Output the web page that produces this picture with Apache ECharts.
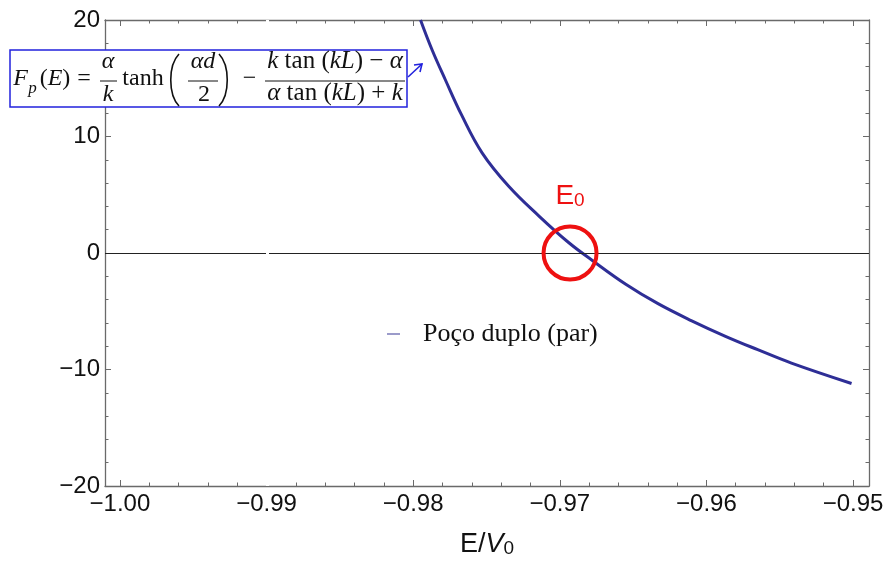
<!DOCTYPE html>
<html>
<head>
<meta charset="utf-8">
<script src="https://cdn.jsdelivr.net/npm/echarts@6/dist/echarts.min.js"></script>
<style>
  html, body { margin: 0; padding: 0; background: #fff; }
  #main { width: 894px; height: 563px; }
</style>
</head>
<body>
<div id="main"></div>
<script>
// ---------- data ----------
var energy = [-0.9795, -0.9787, -0.9778, -0.9767, -0.9753, -0.9735, -0.9714, -0.9694,
              -0.9678, -0.9655, -0.9633, -0.9610, -0.9587, -0.9565, -0.9542, -0.9501];
var fpValues = [20.0, 17.4, 14.85, 11.85, 8.6, 5.75, 3.15, 0.9,
                -0.62, -2.68, -4.35, -5.82, -7.15, -8.3, -9.45, -11.2];
var xMajorTicks = [-1.00, -0.99, -0.98, -0.97, -0.96, -0.95];
var yMajorTicks = [-20, -10, 0, 10, 20];
var rootE0 = -0.9693;
var seriesName = 'Poço duplo (par)';

var xMin = -1.00102, xMax = -0.94891;

// minor ticks every 0.002 between majors
var xMinorTicks = [];
for (var i = 0; i < xMajorTicks.length - 1; i++) {
  for (var j = 1; j < 5; j++) {
    xMinorTicks.push(+(xMajorTicks[i] + j * 0.002).toFixed(3));
  }
}

var points = energy.map(function (e, i) { return [e, fpValues[i]]; });

function minus(v, d) {
  var s = Math.abs(v).toFixed(d);
  return v < 0 ? '\u2212' + s : s;
}

var frameColor = '#6a6a6a';
var sansFont = 'Liberation Sans';
var serifFont = 'Liberation Serif';

function xAxisDef(pos, ticks, len, labels, line) {
  return {
    type: 'value', position: pos, min: xMin, max: xMax,
    axisLine: { show: line, onZero: false, lineStyle: { color: frameColor, width: 1.3 } },
    axisTick: { show: true, inside: true, length: len, customValues: ticks,
                lineStyle: { color: frameColor, width: 1 } },
    axisLabel: labels ? {
      show: true, customValues: ticks, margin: 6,
      fontFamily: sansFont, fontSize: 24, color: '#111',
      formatter: function (v) { return minus(v, 2); }
    } : { show: false },
    splitLine: { show: false }
  };
}

function yAxisDef(pos, labels) {
  return {
    type: 'value', position: pos, min: -20, max: 20, interval: 10,
    axisLine: { show: true, onZero: false, lineStyle: { color: frameColor, width: 1.3 } },
    axisTick: { show: true, inside: true, length: 6, lineStyle: { color: frameColor } },
    minorTick: { show: true, splitNumber: 5, length: 3.5, lineStyle: { color: frameColor } },
    axisLabel: labels ? {
      show: true, margin: 5, fontFamily: sansFont, fontSize: 24, color: '#111',
      formatter: function (v) { return minus(v, 0); }
    } : { show: false },
    splitLine: { show: false }
  };
}

var bottomX = xAxisDef('bottom', xMajorTicks, 6, true, true);
bottomX.name = '{n|E/}{v|V}{s|0}';
bottomX.nameLocation = 'middle';
bottomX.nameGap = 40;
bottomX.nameTextStyle = {
  rich: {
    n: { fontFamily: sansFont, fontSize: 27, color: '#111', lineHeight: 32, verticalAlign: 'bottom' },
    v: { fontFamily: sansFont, fontSize: 27, fontStyle: 'italic', color: '#111', lineHeight: 32, verticalAlign: 'bottom' },
    s: { fontFamily: sansFont, fontSize: 19, color: '#111', lineHeight: 14, verticalAlign: 'bottom' }
  }
};

// ---------- formula annotation (top-left) ----------
var ink = '#111';
function txt(x, y, text, opt) {
  opt = opt || {};
  var sz = opt.size || 24;
  return {
    type: 'text', z: 101, x: x, y: y,
    style: {
      text: text, fill: ink, fontFamily: serifFont, fontSize: sz,
      fontStyle: opt.italic ? 'italic' : 'normal',
      align: opt.align || 'center', verticalAlign: 'middle',
      rich: {
        i: { fontFamily: serifFont, fontSize: sz, fontStyle: 'italic', fill: ink },
        r: { fontFamily: serifFont, fontSize: sz, fill: ink }
      }
    }
  };
}
function bar(x1, x2, y) {
  return { type: 'line', z: 101, shape: { x1: x1, y1: y, x2: x2, y2: y },
           style: { stroke: ink, lineWidth: 1 } };
}
function paren(xEnd, xMid, y1, y2) {
  return { type: 'bezierCurve', z: 101,
           shape: { x1: xEnd, y1: y1, x2: xEnd, y2: y2,
                    cpx1: xMid, cpy1: y1 + (y2 - y1) * 0.22, cpx2: xMid, cpy2: y1 + (y2 - y1) * 0.78 },
           style: { stroke: ink, lineWidth: 1.6, fill: null } };
}

var formula = [
  { type: 'rect', z: 100, shape: { x: 10, y: 50, width: 397, height: 57 },
    style: { fill: '#fff', stroke: '#2222dd', lineWidth: 1.5 } },
  txt(20.5, 79, 'F', { italic: true }),
  txt(32.5, 89, 'p', { italic: true, size: 17 }),
  txt(55, 79, '{r|(}{i|E}{r|)}'),
  txt(84, 79, '='),
  txt(108, 62, 'α', { italic: true }),
  bar(100, 117, 81),
  txt(108, 95, 'k', { italic: true }),
  txt(143, 79, 'tanh'),
  paren(179, 168, 54, 106),
  txt(203, 62, '{i|αd}'),
  bar(188, 218, 81),
  txt(204, 95, '2'),
  paren(219, 230, 54, 106),
  txt(249.5, 79, '\u2212'),
  txt(335, 61, '{i|k} tan ({i|kL}) \u2212 {i|α}', { size: 25 }),
  bar(265, 405, 81),
  txt(335, 93, '{i|α} tan ({i|kL}) + {i|k}', { size: 25 }),
  { type: 'line', z: 101, shape: { x1: 408, y1: 77, x2: 422, y2: 64 },
    style: { stroke: '#2222dd', lineWidth: 1.6 } },
  { type: 'polyline', z: 101, shape: { points: [[414, 65], [422, 64], [420, 72]] },
    style: { stroke: '#2222dd', lineWidth: 1.6, fill: null } }
];

var chart = echarts.init(document.getElementById('main'), null, { renderer: 'canvas' });
chart.setOption({
  backgroundColor: '#ffffff',
  animation: false,
  grid: { left: 105, right: 25, top: 20, bottom: 73, containLabel: false },
  legend: {
    left: 382, top: 316,
    icon: 'rect', itemWidth: 13, itemHeight: 1.5,
    data: [{ name: seriesName, itemStyle: { color: '#7a7ab8' } }],
    textStyle: { fontFamily: serifFont, fontSize: 26, color: '#111', padding: [0, 0, 0, 18] }
  },
  xAxis: [
    bottomX,
    xAxisDef('bottom', xMinorTicks, 3.5, false, false),
    xAxisDef('top', xMajorTicks, 6, false, true),
    xAxisDef('top', xMinorTicks, 3.5, false, false)
  ],
  yAxis: [yAxisDef('left', true), yAxisDef('right', false)],
  graphic: formula,
  series: [{
    name: seriesName,
    type: 'line',
    xAxisIndex: 0, yAxisIndex: 0,
    data: points,
    smooth: 0.4,
    showSymbol: false,
    clip: false,
    lineStyle: { color: '#2e2e96', width: 3 },
    itemStyle: { color: '#2e2e96' },
    markLine: {
      silent: true, symbol: 'none', label: { show: false },
      data: [
        { yAxis: 0, lineStyle: { color: '#222', width: 1, type: 'solid' } },
        // white splice gap of the original picture at -0.99
        [{ coord: [-0.98997, -20], lineStyle: { color: '#fff', width: 3, type: 'solid' } },
         { coord: [-0.98997, 20] }]
      ]
    },
    markPoint: {
      silent: true,
      symbol: 'circle', symbolSize: 53,
      itemStyle: { color: 'rgba(0,0,0,0)', borderColor: '#ee1111', borderWidth: 4 },
      label: {
        show: true, position: 'top', distance: 14,
        formatter: '{e|E}{s|0}',
        rich: {
          e: { fontFamily: sansFont, fontSize: 28, color: '#ee1111', lineHeight: 30, verticalAlign: 'bottom' },
          s: { fontFamily: sansFont, fontSize: 19, color: '#ee1111', lineHeight: 12, verticalAlign: 'bottom' }
        }
      },
      data: [{ coord: [rootE0, 0] }]
    }
  }]
});
</script>
</body>
</html>
